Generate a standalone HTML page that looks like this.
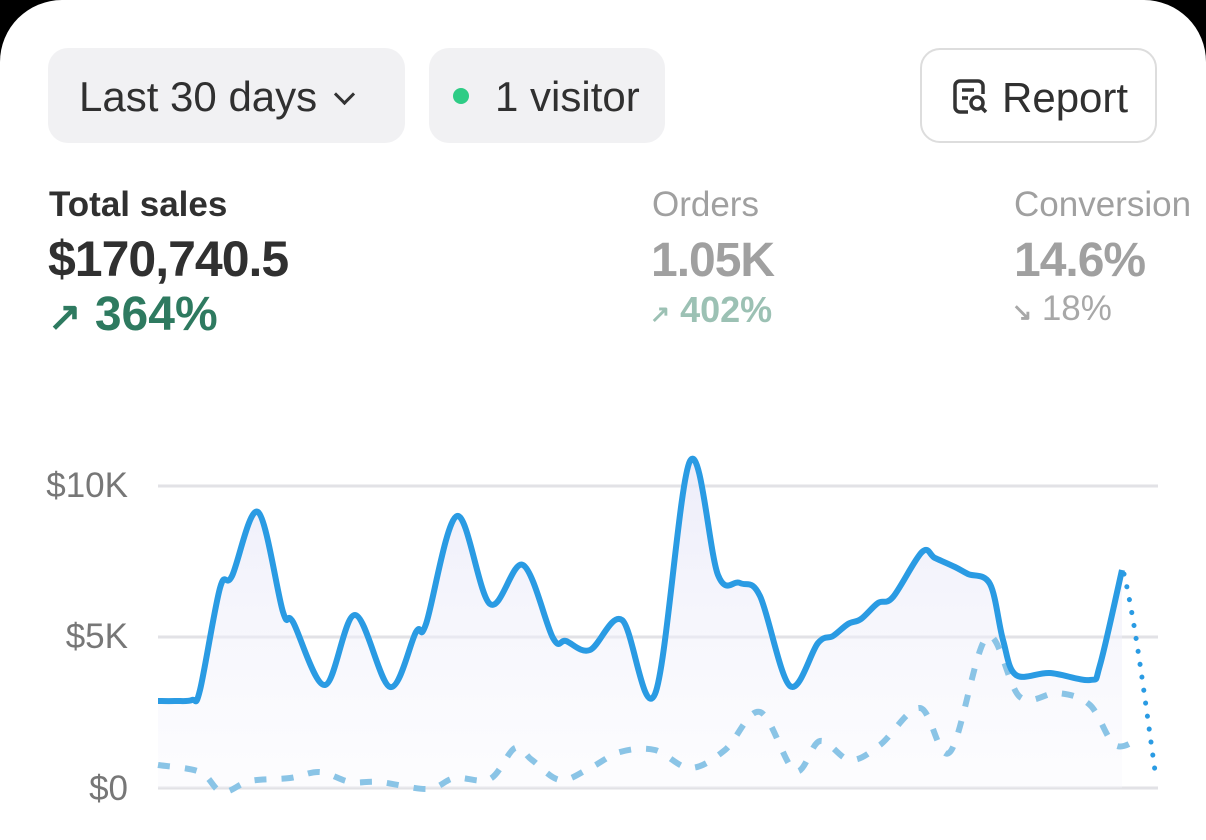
<!DOCTYPE html>
<html><head><meta charset="utf-8"><style>
html,body{margin:0;padding:0;background:#000;}
#card{position:absolute;left:0;top:0;width:1206px;height:840px;background:#fff;border-radius:62px 62px 0 0;overflow:hidden;font-family:"Liberation Sans",sans-serif;}
.btn{position:absolute;top:48px;height:95px;border-radius:20px;background:#f1f1f3;font-size:42px;color:#303030;line-height:97px;box-sizing:border-box;white-space:nowrap;}
.t{position:absolute;white-space:nowrap;}
</style></head><body>
<div id="card">
<div class="btn" style="left:48px;width:357px;padding-left:31px;">Last 30 days <span style="display:inline-block;width:12px;height:12px;border-right:3px solid #333;border-bottom:3px solid #333;transform:rotate(45deg);position:relative;top:-9px;left:8px"></span></div>
<div class="btn" style="left:429px;width:236px;padding-left:66px;"><span style="position:absolute;left:24px;top:40px;width:16px;height:16px;border-radius:50%;background:#2ecc85"></span>1 visitor</div>
<div class="btn" style="left:920px;width:237px;background:#fff;border:2px solid #ddd;padding-left:80px;line-height:95px;">
<svg style="position:absolute;left:30px;top:28px" width="38" height="38" viewBox="0 0 38 38" fill="none" stroke="#333" stroke-width="3.5"><path d="M16 34H8a5 5 0 0 1-5-5V8a5 5 0 0 1 5-5h18a5 5 0 0 1 5 5v8"/><path d="M10 12h12M10 20h6"/><circle cx="25" cy="25" r="6"/><path d="M29.5 29.5L34 34"/></svg>Report</div>

<div class="t" style="left:49px;top:185px;font-size:35px;font-weight:bold;color:#303030">Total sales</div>
<div class="t" style="left:48px;top:230px;font-size:50px;font-weight:bold;color:#303030;letter-spacing:-1px">$170,740.5</div>
<div class="t" style="left:48px;top:287px;font-size:48px;font-weight:bold;color:#2e7a60"><span style="font-size:40px">&#8599;</span> 364%</div>

<div class="t" style="left:652px;top:185px;font-size:35px;color:#a0a0a0">Orders</div>
<div class="t" style="left:651px;top:233px;font-size:48px;font-weight:bold;color:#a0a0a0;letter-spacing:-1px">1.05K</div>
<div class="t" style="left:650px;top:289px;font-size:36px;font-weight:bold;color:#9cc1b4"><span style="font-size:24px">&#8599;</span> 402%</div>

<div class="t" style="left:1014px;top:185px;font-size:35px;color:#a0a0a0">Conversion</div>
<div class="t" style="left:1014px;top:233px;font-size:48px;font-weight:bold;color:#a0a0a0;letter-spacing:-1px">14.6%</div>
<div class="t" style="left:1012px;top:289px;font-size:35px;color:#a8a8a8"><span style="font-size:24px;font-weight:bold">&#8600;</span> 18%</div>

<div class="t" style="right:1078px;top:466px;font-size:35px;color:#777">$10K</div>
<div class="t" style="right:1078px;top:617px;font-size:35px;color:#777">$5K</div>
<div class="t" style="right:1078px;top:769px;font-size:35px;color:#777">$0</div>

<svg style="position:absolute;left:0;top:0" width="1206" height="840">
<defs><linearGradient id="g" x1="0" y1="0" x2="0" y2="1"><stop offset="0" stop-color="#e8e8f8" stop-opacity="0.8"/><stop offset="1" stop-color="#f6f6fc" stop-opacity="0.3"/></linearGradient></defs>
<g stroke="#e2e2e6" stroke-width="3"><line x1="158" y1="486" x2="1158" y2="486"/><line x1="158" y1="637" x2="1158" y2="637"/><line x1="158" y1="788" x2="1158" y2="788"/></g>
<path id="fill" fill="url(#g)"/>
<path id="dash" fill="none" stroke="#8ac4e6" stroke-width="6" stroke-dasharray="12 15"/>
<path id="main" fill="none" stroke="#2a9be3" stroke-width="6" stroke-linejoin="round"/>
<path id="dot" fill="none" stroke="#2a9be3" stroke-width="5" stroke-linecap="round" stroke-dasharray="0.1 13"/>
</svg>
</div>
<script>
function cr(p){let d="M"+p[0][0]+","+p[0][1];for(let i=0;i<p.length-1;i++){const a=p[Math.max(0,i-1)],b=p[i],c=p[i+1],e=p[Math.min(p.length-1,i+2)];const t=6;d+=" C"+(b[0]+(c[0]-a[0])/t)+","+(b[1]+(c[1]-a[1])/t)+" "+(c[0]-(e[0]-b[0])/t)+","+(c[1]-(e[1]-b[1])/t)+" "+c[0]+","+c[1];}return d;}
const m=[[158,701],[175,701],[192,700],[200,690],[220,588],[232,576],[258,512],[283,612],[293,622],[325,685],[355,615],[390,687],[416,632],[426,624],[457,516],[490,604],[523,565],[553,638],[566,641],[590,650],[622,620],[655,694],[690,461],[718,575],[740,583],[760,596],[790,686],[818,643],[833,636],[848,624],[861,619],[878,603],[893,597],[922,552],[935,558],[955,567],[968,574],[990,584],[1003,640],[1016,675],[1050,673],[1090,680],[1100,665],[1122,570]];
const dm=cr(m);
document.getElementById("main").setAttribute("d",dm);
document.getElementById("fill").setAttribute("d",dm+" L1122,788 L158,788 Z");
document.getElementById("dot").setAttribute("d","M1124,574 C1135,620 1145,700 1156,778");
const ds=[[158,765],[200,772],[222,792],[250,781],[290,778],[320,772],[350,782],[380,782],[428,789],[455,778],[490,779],[515,748],[532,760],[560,780],[590,768],[620,752],[655,750],[690,768],[725,750],[760,712],[795,771],[820,741],[850,760],[880,745],[920,708],[950,752],[987,637],[1020,697],[1058,693],[1090,705],[1115,745],[1140,738]];
document.getElementById("dash").setAttribute("d",cr(ds));
</script>
</body></html>
